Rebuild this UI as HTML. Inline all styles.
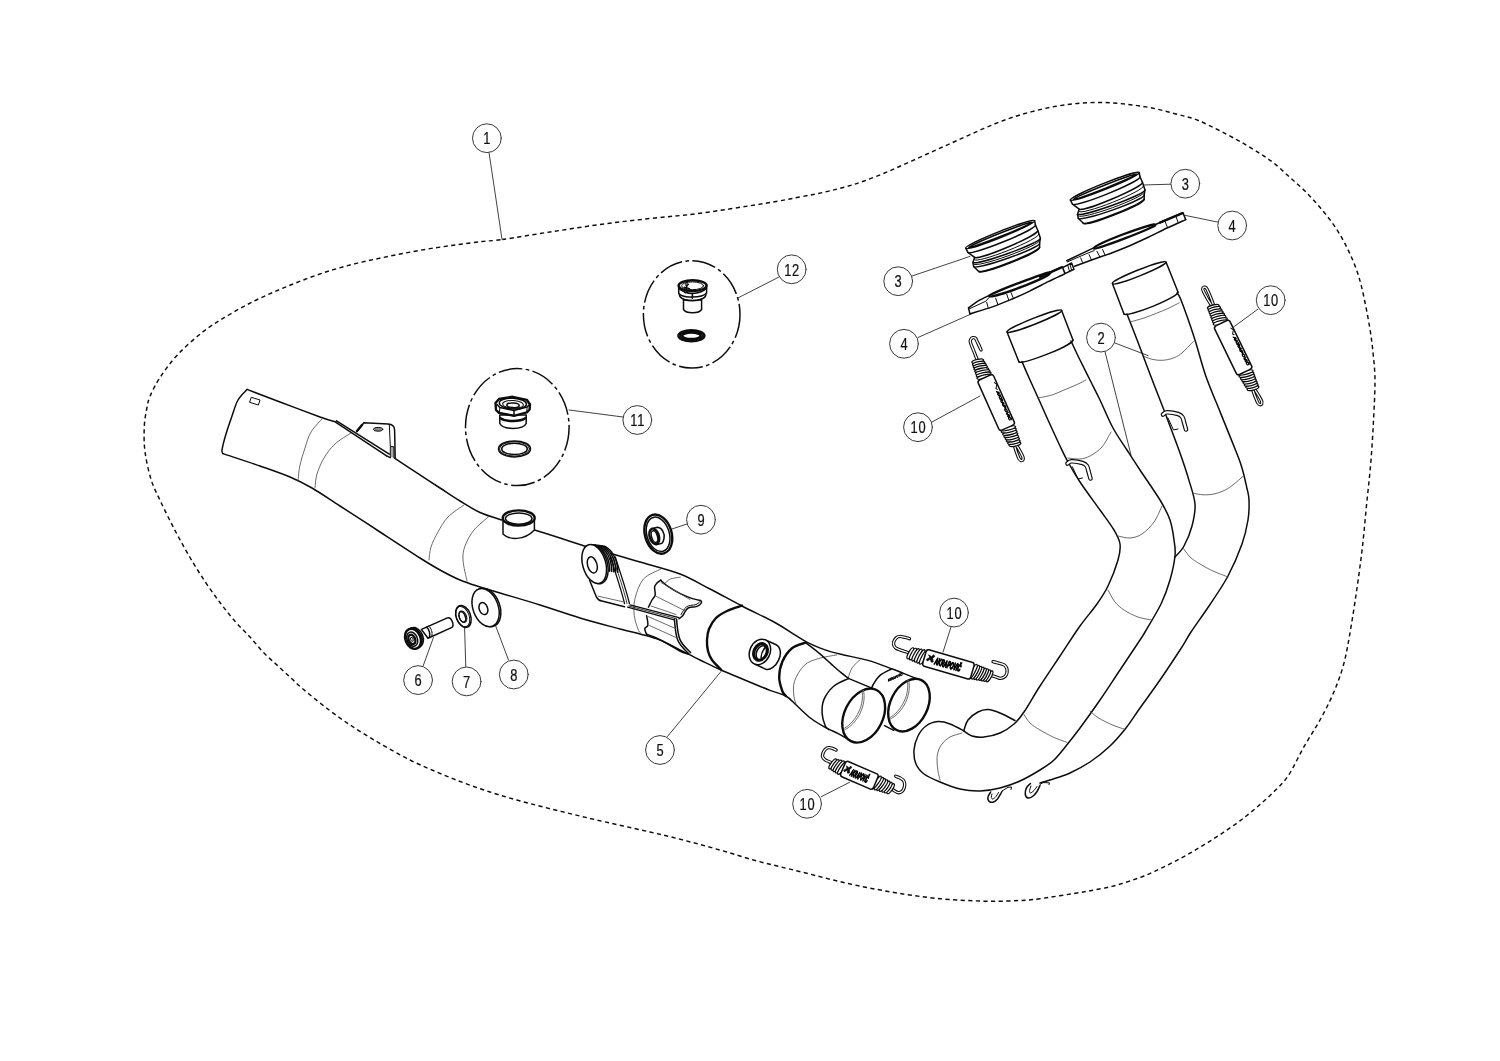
<!DOCTYPE html>
<html lang="en"><head><meta charset="utf-8"><title>Exhaust system exploded diagram</title>
<style>
html,body{margin:0;padding:0;background:#fff}
svg{display:block;filter:grayscale(1)}
path,ellipse,circle,.r{fill:none;stroke:#0c0c0c;stroke-width:1.5;stroke-linecap:round;stroke-linejoin:round}
.b{stroke-width:2.4}
.t{stroke-width:1}
.s{stroke:#505050;stroke-width:.85}
.l{stroke:#383838;stroke-width:.95}
.c{stroke:#383838;stroke-width:1;fill:#fff}
.d{stroke-width:1.45;stroke-dasharray:4.2 3.4;stroke-linecap:butt}
.dd{stroke-width:1.5;stroke-dasharray:24 3.4 3.6 3.4;stroke-linecap:butt}
.w{fill:#fff}
.k{fill:#0c0c0c}
.n{font-family:"Liberation Sans",Arial,sans-serif;font-size:17.4px;text-anchor:middle;fill:#111;stroke:#111;stroke-width:.25;letter-spacing:1.1px}
.lg{font-family:"Liberation Sans",Arial,sans-serif;font-weight:bold;font-style:italic;fill:#000;stroke:none}
</style></head>
<body>
<svg width="1500" height="1061" viewBox="0 0 1500 1061">
<rect width="1500" height="1061" fill="#fff" stroke="none"/>
<path class="d" d="M502.3 239.5C513.6 237.9 533.7 234.5 550 232C566.3 229.5 583.3 226.8 600 224.5C616.7 222.2 633.3 220.4 650 218.5C666.7 216.6 680.5 215.9 700 213.3C719.5 210.7 750.3 205.7 767 203C783.7 200.3 790.3 198.8 800 197C809.7 195.2 817.5 193.7 825 192C832.5 190.3 838.5 188.8 845 187C851.5 185.2 856.8 183.6 864 181C871.2 178.4 880 175 888 171.6C896 168.2 904 164.4 912 160.8C920 157.2 928 153.6 936 150C944 146.4 952 142.8 960 139.2C968 135.6 976 131.8 984 128.4C992 125 1000 121.6 1008 118.8C1016 116 1024 113.7 1032 111.6C1040 109.5 1048 107.7 1056 106.3C1064 104.9 1072 103.8 1080 103.2C1088 102.6 1096 102.3 1104 102.5C1112 102.7 1120 103.5 1128 104.4C1136 105.3 1144 106.4 1152 108C1160 109.6 1168 111.8 1176 114C1184 116.2 1189.9 116.9 1200 121.2C1210.1 125.5 1226.6 134.2 1236.6 139.6C1246.6 145 1253.6 149.5 1260 153.6C1266.4 157.7 1270.1 160.1 1275.1 164.1C1280.1 168.1 1285.2 173.2 1290.2 177.7C1295.2 182.2 1300.2 186.3 1305.2 191.3C1310.2 196.3 1315.3 201.8 1320.3 207.8C1325.3 213.8 1330.9 220.6 1335.4 227.4C1339.9 234.2 1343.9 241.4 1347.4 248.5C1350.9 255.6 1354 262.6 1356.5 269.7C1359 276.8 1360.3 281.4 1362.5 290.8C1364.7 300.2 1367.7 315.6 1369.5 326.2C1371.3 336.8 1372.3 345.2 1373.2 354.5C1374.1 363.8 1375 370.7 1375 382C1375 393.3 1374.1 408.7 1373.4 422.5C1372.7 436.3 1371.8 450.8 1370.6 464.9C1369.4 479 1367.7 493.2 1366.3 507.4C1364.9 521.5 1363.8 535.6 1362.1 549.8C1360.4 563.9 1358.5 577.8 1356.4 592.3C1354.3 606.8 1351.5 624.6 1349.3 637C1347.1 649.4 1345.7 657.3 1343 666.7C1340.3 676.1 1337.1 684.4 1333.3 693.3C1329.5 702.2 1324.9 711.1 1320 720C1315.1 728.9 1309.3 737.4 1304 746.7C1298.7 756 1293.3 768.2 1288 776C1282.7 783.8 1277.3 788.3 1272 793.6C1266.7 798.9 1261.3 803.5 1256 808C1250.7 812.5 1245.3 816.8 1240 820.8C1234.7 824.8 1229.3 828.4 1224 832C1218.7 835.6 1213.3 839.1 1208 842.4C1202.7 845.7 1197.3 848.9 1192 852C1186.7 855.1 1181.3 858 1176 860.8C1170.7 863.6 1165.3 866.3 1160 868.8C1154.7 871.3 1149.3 873.9 1144 876C1138.7 878.1 1133.3 879.9 1128 881.6C1122.7 883.3 1117.3 885.1 1112 886.4C1106.7 887.7 1101.3 888.6 1096 889.6C1090.7 890.6 1089.3 891 1080 892.5C1070.7 894 1050 897.4 1040 898.7C1030 900 1027.8 900.1 1020 900.5C1012.2 900.9 1002.2 901.3 993.3 901.3C984.4 901.3 975.6 900.9 966.7 900.5C957.8 900.1 948.9 899.5 940 898.7C931.1 897.9 922.2 896.8 913.3 895.5C904.4 894.2 895.6 892.8 886.7 891.2C877.8 889.6 868.9 888 860 886.1C851.1 884.2 842.2 882.1 833.3 880C824.4 877.9 815.6 875.5 806.7 873.3C797.8 871.1 788.9 868.9 780 866.7C771.1 864.5 762.2 862.5 753.3 860C744.4 857.5 735.6 854.6 726.7 852C717.8 849.4 708.9 846.9 700 844.5C691.1 842.1 681.6 839.6 673.3 837.5C665 835.4 658.3 833.9 650 832C641.7 830.1 632.2 828 623.3 826C614.4 824 605.6 822.1 596.7 820C587.8 817.9 578.9 815.8 570 813.6C561.1 811.4 552.2 809.3 543.3 807C534.4 804.7 525.6 802.5 516.7 800C507.8 797.5 498.9 794.9 490 792C481.1 789.1 472.2 786 463.3 782.7C454.4 779.4 445.6 775.8 436.7 772C427.8 768.2 418.9 764.5 410 760C401.1 755.5 392.2 750.4 383.3 745.3C374.4 740.2 365.6 735.1 356.7 729.3C347.8 723.5 338.9 717.4 330 710.7C321.1 704 309.8 694.8 303.3 689.3C296.8 683.8 295.2 681.9 291 678C286.8 674.1 282.5 670.2 278 666C273.5 661.8 268.7 657.8 264 653C259.3 648.2 254.7 642.2 250 637C245.3 631.8 240.5 627.6 235.6 622C230.7 616.4 225.5 609.9 220.5 603.2C215.5 596.6 210.4 589.6 205.4 582.1C200.4 574.6 195.3 566.5 190.3 558C185.3 549.5 180.2 540.3 175.2 530.8C170.2 521.2 164.2 509.2 160.2 500.7C156.2 492.1 153.6 487.6 151.1 479.5C148.6 471.4 146.2 460.9 145.1 452.4C143.9 443.9 144 435.4 144.2 428.3C144.4 421.2 145.5 415.4 146.5 410C147.5 404.6 147.8 401.6 150.1 396.1C152.4 390.6 155.7 384.1 160.3 377.1C165 370.1 170.8 361.9 178 354.3C185.2 346.7 194.9 338.1 203.3 331.5C211.8 324.9 220.2 320.1 228.7 315C237.1 309.9 245.6 305.3 254 301.1C262.4 296.9 270.9 293.3 279.3 289.7C287.8 286.1 296.2 282.7 304.7 279.5C313.1 276.3 321.6 273.3 330 270.7C338.4 268.1 346.9 265.7 355.4 263.6C363.8 261.5 372.3 259.8 380.7 258C389.1 256.2 397.6 254.5 406 252.9C414.4 251.3 422.9 249.8 431.4 248.4C439.8 247.1 448.3 246 456.7 244.8C465.1 243.7 474.4 242.4 482 241.5C489.6 240.6 491 241.1 502.3 239.5Z"/>
<path class="l" d="M489 152.4L502 239.3"/>
<path class="l" d="M1115 343L1148 355.6"/>
<path class="l" d="M1105 351.6L1131 455"/>
<path class="l" d="M1170.9 184.2L1125 185.5"/>
<path class="l" d="M912.4 275.9L970 256.4"/>
<path class="l" d="M1218.2 222.2L1185.3 215.4"/>
<path class="l" d="M918 337.5L972.5 313.4"/>
<path class="l" d="M667.5 736.5L721 671.5"/>
<path class="l" d="M423.2 665.8L433.4 637.6"/>
<path class="l" d="M465.8 667L464.6 628"/>
<path class="l" d="M508.4 659.8L495.8 626.2"/>
<path class="l" d="M687 524L671 529.3"/>
<path class="l" d="M951 627L943 652.2"/>
<path class="l" d="M1257.9 309.2L1230 329.6"/>
<path class="l" d="M932 422L980 396"/>
<path class="l" d="M821.1 796.8L849.6 782.3"/>
<path class="l" d="M623 417L569 410"/>
<path class="l" d="M779 277L737.3 298.3"/>
<circle class="c" cx="486.9" cy="138.2" r="14.4"/>
<text class="n" transform="translate(487.3 144.4) scale(.74 1)">1</text>
<circle class="c" cx="1101" cy="337.6" r="14.4"/>
<text class="n" transform="translate(1101.4 343.8) scale(.74 1)">2</text>
<circle class="c" cx="1185.3" cy="183.7" r="14.4"/>
<text class="n" transform="translate(1185.7 189.9) scale(.74 1)">3</text>
<circle class="c" cx="898.2" cy="281.2" r="14.4"/>
<text class="n" transform="translate(898.6 287.4) scale(.74 1)">3</text>
<circle class="c" cx="1232.2" cy="225.5" r="14.4"/>
<text class="n" transform="translate(1232.6 231.7) scale(.74 1)">4</text>
<circle class="c" cx="904" cy="343.8" r="14.4"/>
<text class="n" transform="translate(904.4 350) scale(.74 1)">4</text>
<circle class="c" cx="660" cy="750" r="14.4"/>
<text class="n" transform="translate(660.4 756.2) scale(.74 1)">5</text>
<circle class="c" cx="418.1" cy="680.1" r="14.4"/>
<text class="n" transform="translate(418.5 686.3) scale(.74 1)">6</text>
<circle class="c" cx="466.6" cy="681.4" r="14.4"/>
<text class="n" transform="translate(467 687.6) scale(.74 1)">7</text>
<circle class="c" cx="513.8" cy="674.5" r="14.4"/>
<text class="n" transform="translate(514.2 680.7) scale(.74 1)">8</text>
<circle class="c" cx="701" cy="519.7" r="14.4"/>
<text class="n" transform="translate(701.4 525.9) scale(.74 1)">9</text>
<circle class="c" cx="954" cy="612.6" r="14.4"/>
<text class="n" transform="translate(954.4 618.8) scale(.74 1)">10</text>
<circle class="c" cx="1270.7" cy="300.2" r="14.4"/>
<text class="n" transform="translate(1271.1 306.4) scale(.74 1)">10</text>
<circle class="c" cx="918" cy="427.2" r="14.4"/>
<text class="n" transform="translate(918.4 433.4) scale(.74 1)">10</text>
<circle class="c" cx="807.1" cy="803.8" r="14.4"/>
<text class="n" transform="translate(807.5 810) scale(.74 1)">10</text>
<circle class="c" cx="637.3" cy="420" r="14.4"/>
<text class="n" transform="translate(637.7 426.2) scale(.74 1)">11</text>
<circle class="c" cx="791.7" cy="269.3" r="14.4"/>
<text class="n" transform="translate(792.1 275.5) scale(.74 1)">12</text>
<ellipse class="dd" cx="517.3" cy="427.1" rx="51.8" ry="58.5"/>
<ellipse class="dd" cx="691.7" cy="314.4" rx="48.3" ry="53.7"/>
<path class="o" d="M247 389.4C245.5 391.2 240.5 395.6 238 400C235.5 404.4 234 410.3 232 416C230 421.7 227.7 428.3 226 434C224.3 439.7 222.5 446.7 222 450C221.5 453.3 222.8 453 223 453.6"/>
<path class="o" d="M247 389.4C252.5 391.5 267.8 397.4 280 402C292.2 406.6 310.6 413.6 320 417C329.4 420.4 333.5 421.3 336.2 422.2"/>
<path class="o" d="M394.9 458.4C398.2 460.6 407.5 466.7 415 471.6C422.5 476.5 432.5 483.1 440 488C447.5 492.9 453.3 496.9 460 501C466.7 505.1 473 509.3 480 512.5C487 515.7 498.3 518.8 502 520"/>
<path class="o" d="M534.5 530C538.8 531.3 551.4 535.2 560 538C568.6 540.8 581.7 545.1 586 546.5"/>
<path class="o" d="M611 553.5C615.8 554.9 628.5 558.6 640 562C651.5 565.4 668.3 569.5 680 574C691.7 578.5 699.7 583.7 710 589C720.3 594.3 731.2 600.4 742 606C752.8 611.6 766.1 617.7 774.9 622.5C783.6 627.3 789.2 631.4 794.5 634.7C799.8 638 802.7 640 806.8 642.1C810.9 644.2 814.9 646 819 647.6C823.1 649.2 827.2 650.7 831.3 651.9C835.4 653.1 837.4 653.5 843.5 654.9C849.6 656.3 859.8 658 868 660.4C876.2 662.8 886.4 666.8 892.5 669C898.6 671.2 900.9 672.3 904.8 673.9C908.7 675.5 914.1 677.6 916 678.4"/>
<path class="o" d="M223 453.6C229.2 455.7 248.8 462.1 260 466C271.2 469.9 281.3 473.3 290 477C298.7 480.7 303.7 483.2 312 488C320.3 492.8 328.7 498.7 340 506C351.3 513.3 366.7 523.3 380 532C393.3 540.7 410 551.7 420 558C430 564.3 433.3 566.3 440 570C446.7 573.7 453.3 577.2 460 580C466.7 582.8 473.3 584.8 480 587C486.7 589.2 490 590 500 593C510 596 526.7 600.8 540 605C553.3 609.2 566.7 614 580 618C593.3 622 610 626.3 620 629C630 631.7 633.3 632.2 640 634C646.7 635.8 653.3 637.3 660 640C666.7 642.7 673.3 646.7 680 650C686.7 653.3 693.3 656.8 700 660C706.7 663.2 713.3 666.5 720 669.5C726.7 672.5 731.7 674.5 740 678C748.3 681.5 762.4 687.4 770 690.4C777.6 693.4 781.4 693.4 785.9 696C790.4 698.6 792.9 702.1 797 705.8C801.1 709.5 805.9 714.5 810.4 718C814.9 721.5 819.2 724 823.9 726.6C828.6 729.2 834.5 731.8 838.6 733.9C842.7 736 845.5 738 848.4 739.4C851.3 740.8 854.6 742 855.8 742.5"/>
<path class="s" d="M323 418C321 420.3 314 427 311 432C308 437 306.8 442.5 305 448C303.2 453.5 301.2 459.5 300 465C298.8 470.5 298.3 478.3 298 481"/>
<path class="s" d="M351 433C348.3 434.8 339.5 439.8 335 444C330.5 448.2 327 453 324 458C321 463 318.5 469 317 474C315.5 479 315.3 485.7 315 488"/>
<path class="s" d="M464 505C461.3 507 452.3 512.5 448 517C443.7 521.5 440.8 527 438 532C435.2 537 432.5 542.3 431 547C429.5 551.7 429.3 557.8 429 560"/>
<path class="s" d="M489 516.4C486.5 518.7 478 525.1 474 530C470 534.9 466.8 541 465 546C463.2 551 462.7 554.2 463 560C463.3 565.8 466.3 577.5 467 581"/>
<path class="s" d="M660.7 569.2C657.8 570.8 647.8 574.1 643.5 579C639.2 583.9 636.5 592.5 635 598.6C633.5 604.7 633.7 610.5 634.3 615.8C634.9 621.1 637.5 627.6 638.6 630.5C639.7 633.4 640.6 632.6 641 633"/>
<path class="s" d="M680.3 577.2C678.7 577.5 673 578 670.5 579C668 580 665.9 582.6 665 583.3"/>
<path class="b" d="M742 605.6C739.5 606.5 731.3 608.9 727 611C722.7 613.1 719 615 716 618C713 621 710.5 625.3 709 629C707.5 632.7 707.2 636.3 707 640C706.8 643.7 707.2 647.7 708 651C708.8 654.3 709.8 656.9 712 660C714.2 663.1 719.5 667.9 721 669.5"/>
<path class="b" d="M805.5 642.7C803.2 643.6 795.9 645 792 648.2C788.1 651.4 784.4 656.8 782.3 661.7C780.2 666.6 779.2 672.7 779.2 677.6C779.2 682.5 781.2 687.9 782.3 691C783.4 694.1 785.3 695.2 785.9 696"/>
<path class="t" d="M251.6 397.4L260 400L258.4 405L250 402.4Z"/>
<path class="o" d="M336.5 420.8L389.3 454.1"/>
<path class="o" d="M335.9 422.3L387 456.1"/>
<path class="o" d="M356.7 431.4L363.9 422.7L388 424C392.5 424.3 394.6 426 394.6 430L395.2 458.4"/>
<path class="b" d="M357 431L362 425"/>
<path class="t" d="M389.3 424.8L390.3 445.9"/>
<path class="t" d="M390.3 457L390.3 446.4L393.9 446.8L394 458" style="fill:#aaa"/>
<path class="o" d="M387 456.1L390.3 457.6"/>
<ellipse class="t" cx="378.1" cy="429.3" rx="4.7" ry="1.9" style="fill:#8a8a8a"/>
<path class="o w" d="M503 519L503 534C509 540 524 541 534.4 530L534.4 519"/>
<ellipse class="b w" cx="518.7" cy="518" rx="16" ry="7.6"/>
<ellipse class="o" cx="518.7" cy="518.6" rx="13.3" ry="5.6"/>
<path class="o w" d="M765.5 640L775.7 644.5C781 647 781.5 654 778.6 660.1C776 666 770 670.5 766 669.4L754.8 664"/>
<ellipse class="o w" cx="759.9" cy="651.9" rx="10.1" ry="13.2" transform="rotate(25 759.9 651.9)"/>
<ellipse class="b" cx="760.5" cy="651.9" rx="6.8" ry="9" transform="rotate(25 760.5 651.9)"/>
<ellipse class="o" cx="761.3" cy="652.6" rx="4.6" ry="7.2" transform="rotate(25 761.3 652.6)"/>
<ellipse class="o" cx="760.8" cy="652.2" rx="5.8" ry="8.2" transform="rotate(25 760.8 652.2)"/>
<path class="o" d="M765.5 647C762 651 760.5 656 761.5 660"/>
<path class="s" d="M836.8 654.9C833.7 655.5 823.8 656.9 818.4 658.6C813 660.3 808.3 661.5 804.3 665.3C800.3 669.1 796.2 676.2 794.5 681.3C792.8 686.4 793.6 692.1 793.9 696C794.2 699.9 795.9 703.1 796.3 704.5"/>
<path class="s" d="M860 659.8C858.7 661.1 854 664.8 852.1 667.8C850.2 670.8 849 676 848.4 677.6"/>
<path class="o" d="M805.5 642.7C807.8 644.4 814.7 649.5 819 653.1C823.3 656.7 827.6 660.8 831.3 664.1C835 667.4 838.2 670.3 841.1 672.7C844 675.1 847.2 677.5 848.4 678.4"/>
<path class="o" d="M848.4 678.6C846 679.9 837.8 682.7 833.7 686.2C829.6 689.7 825.8 695.1 823.9 699.6C822 704.1 821.9 708.8 822.1 713.1C822.3 717.4 824 722.6 825.1 725.4C826.2 728.1 828.2 728.9 828.8 729.6"/>
<path class="o" d="M848.4 678.4L872.5 688.4"/>
<path class="o" d="M891.3 669C889.5 670 883.3 672.6 880.3 675.1C877.3 677.6 875 681.5 873.5 684C872 686.5 871.4 689 871 690"/>
<path class="o" d="M884.5 725.7L893.7 730.3"/>
<ellipse class="b w" cx="909" cy="705.1" rx="18.6" ry="27.9" transform="rotate(26.6 909 705.1)"/>
<ellipse class="b w" cx="863.7" cy="715.6" rx="19.2" ry="28.6" transform="rotate(26.6 863.7 715.6)"/>
<path class="s" d="M863.4 690.2C863.4 690.7 863.7 691.9 863.9 692.8C864 693.7 864.1 694.6 864.1 695.5C864.1 696.4 864.1 697.3 864.1 698.3C864 699.2 863.9 700.2 863.8 701.2C863.7 702.1 863.5 703.1 863.3 704.1C863.1 705.1 862.8 706 862.5 707C862.2 708 861.9 709 861.5 709.9C861.2 710.9 860.7 711.9 860.3 712.8C859.9 713.7 859.4 714.7 858.9 715.6C858.4 716.5 857.8 717.4 857.2 718.2C856.7 719.1 856.1 719.9 855.4 720.7C854.8 721.5 854.2 722.3 853.5 723C852.8 723.7 852.1 724.4 851.4 725.1C850.7 725.8 850 726.4 849.2 726.9C848.5 727.5 847.7 728.1 847 728.5C846.2 729 845.1 729.6 844.7 729.9"/>
<path class="s" d="M861.9 690.2C862 690.7 862.3 691.9 862.3 692.7C862.4 693.6 862.5 694.4 862.5 695.3C862.5 696.2 862.5 697.1 862.4 698C862.4 699 862.3 699.9 862.1 700.8C862 701.7 861.8 702.7 861.6 703.6C861.4 704.6 861.1 705.5 860.9 706.5C860.6 707.4 860.2 708.3 859.9 709.3C859.5 710.2 859.1 711.1 858.7 712C858.3 712.9 857.8 713.8 857.3 714.7C856.8 715.5 856.3 716.4 855.8 717.2C855.2 718 854.7 718.8 854.1 719.6C853.5 720.4 852.9 721.1 852.2 721.9C851.6 722.6 850.9 723.3 850.2 723.9C849.6 724.5 848.9 725.2 848.2 725.7C847.5 726.3 846.7 726.8 846 727.3C845.3 727.8 844.2 728.4 843.8 728.7"/>
<path class="s" d="M908.6 680.4C908.7 680.8 908.9 682 909.1 682.8C909.2 683.7 909.2 684.6 909.3 685.5C909.3 686.3 909.3 687.3 909.3 688.2C909.2 689.1 909.1 690.1 909 691C908.9 691.9 908.7 692.9 908.5 693.8C908.3 694.8 908 695.8 907.7 696.7C907.4 697.7 907.1 698.6 906.8 699.6C906.4 700.5 906 701.4 905.6 702.4C905.1 703.3 904.7 704.2 904.2 705.1C903.7 705.9 903.1 706.8 902.6 707.6C902 708.5 901.4 709.3 900.8 710.1C900.2 710.8 899.6 711.6 898.9 712.3C898.3 713 897.6 713.7 896.9 714.4C896.2 715 895.5 715.6 894.8 716.2C894.1 716.7 893.3 717.3 892.6 717.7C891.8 718.2 890.7 718.8 890.3 719"/>
<path class="s" d="M907.3 680.3C907.3 680.7 907.6 681.9 907.6 682.8C907.7 683.6 907.8 684.4 907.8 685.3C907.8 686.2 907.8 687.1 907.7 687.9C907.7 688.8 907.6 689.7 907.4 690.6C907.3 691.6 907.1 692.5 906.9 693.4C906.7 694.3 906.4 695.2 906.2 696.1C905.9 697.1 905.6 698 905.2 698.9C904.9 699.8 904.5 700.7 904.1 701.6C903.6 702.4 903.2 703.3 902.7 704.1C902.2 705 901.7 705.8 901.2 706.6C900.7 707.4 900.1 708.2 899.5 709C899 709.7 898.4 710.5 897.7 711.2C897.1 711.9 896.5 712.5 895.8 713.2C895.2 713.8 894.5 714.4 893.8 715C893.1 715.5 892.4 716 891.7 716.5C891 717 889.9 717.6 889.6 717.8"/>
<text class="lg" transform="translate(888.2 681.6) rotate(-24.5) scale(1 .5)" font-size="6.5" textLength="16" lengthAdjust="spacingAndGlyphs" style="stroke:#000;stroke-width:1.1">AKRAPOVIČ</text>
<path class="o" d="M589.5 580L596.3 596.8C598 600 600 600.8 601.9 601.1L624.5 606.8"/>
<path class="s" d="M598.2 596.2L622.7 601.7"/>
<path class="t" d="M610.4 557C614.4 570 621.5 590 624.5 603.5" style="stroke-width:1.3"/>
<path class="t" d="M612.9 557C616.9 570 624 590 627 603.5" style="stroke-width:.8"/>
<path class="t" d="M615.3 557C619.3 570 626.4 590 629.4 603.5" style="stroke-width:1.3"/>
<path class="o" d="M590.9 545.5C591.2 545.4 592.1 545.1 592.7 545C593.2 544.9 593.9 544.9 594.5 544.9C595.1 545 595.7 545.1 596.4 545.4C597 545.6 597.7 545.9 598.3 546.2C598.9 546.6 599.6 547 600.2 547.6C600.8 548.1 601.4 548.6 602 549.3C602.6 549.9 603.2 550.6 603.8 551.4C604.3 552.1 604.8 552.9 605.3 553.8C605.8 554.6 606.3 555.5 606.7 556.5C607.1 557.4 607.5 558.3 607.9 559.3C608.2 560.3 608.5 561.3 608.7 562.3C609 563.3 609.2 564.3 609.4 565.3C609.5 566.3 609.6 567.4 609.7 568.3C609.8 569.3 609.7 570.8 609.7 571.3"/>
<path class="o" d="M592.9 545.7C593.2 545.7 594.1 545.3 594.7 545.2C595.2 545.1 595.9 545.1 596.5 545.2C597.1 545.2 597.7 545.4 598.4 545.6C599 545.8 599.7 546.1 600.3 546.5C600.9 546.8 601.6 547.3 602.2 547.8C602.8 548.3 603.4 548.9 604 549.5C604.6 550.2 605.2 550.9 605.8 551.6C606.3 552.4 606.8 553.2 607.3 554C607.8 554.9 608.3 555.8 608.7 556.7C609.1 557.6 609.5 558.6 609.9 559.6C610.2 560.5 610.5 561.5 610.7 562.5C611 563.5 611.2 564.6 611.4 565.6C611.5 566.6 611.6 567.6 611.7 568.6C611.8 569.6 611.7 571 611.7 571.5"/>
<path class="o" d="M594.9 546C595.2 545.9 596.1 545.6 596.7 545.5C597.2 545.4 597.9 545.4 598.5 545.4C599.1 545.5 599.7 545.6 600.4 545.8C601 546.1 601.7 546.3 602.3 546.7C602.9 547.1 603.6 547.5 604.2 548C604.8 548.5 605.4 549.1 606 549.8C606.6 550.4 607.2 551.1 607.8 551.9C608.3 552.6 608.8 553.4 609.3 554.3C609.8 555.1 610.3 556 610.7 556.9C611.1 557.9 611.5 558.8 611.9 559.8C612.2 560.8 612.5 561.8 612.7 562.8C613 563.8 613.2 564.8 613.4 565.8C613.5 566.8 613.6 567.8 613.7 568.8C613.8 569.8 613.7 571.2 613.7 571.7"/>
<path class="o" d="M596.9 546.2C597.2 546.1 598.1 545.8 598.7 545.7C599.2 545.6 599.9 545.6 600.5 545.7C601.1 545.7 601.7 545.9 602.4 546.1C603 546.3 603.7 546.6 604.3 547C604.9 547.3 605.6 547.8 606.2 548.3C606.8 548.8 607.4 549.4 608 550C608.6 550.6 609.2 551.4 609.8 552.1C610.3 552.9 610.8 553.7 611.3 554.5C611.8 555.4 612.3 556.3 612.7 557.2C613.1 558.1 613.5 559.1 613.9 560C614.2 561 614.5 562 614.7 563C615 564 615.2 565 615.4 566C615.5 567.1 615.6 568.1 615.7 569.1C615.8 570 615.7 571.5 615.7 572"/>
<path class="o" d="M598.9 546.5C599.2 546.4 600.1 546 600.7 545.9C601.2 545.9 601.9 545.8 602.5 545.9C603.1 546 603.7 546.1 604.4 546.3C605 546.5 605.7 546.8 606.3 547.2C606.9 547.6 607.6 548 608.2 548.5C608.8 549 609.4 549.6 610 550.2C610.6 550.9 611.2 551.6 611.8 552.3C612.3 553.1 612.8 553.9 613.3 554.8C613.8 555.6 614.3 556.5 614.7 557.4C615.1 558.3 615.5 559.3 615.9 560.3C616.2 561.2 616.5 562.3 616.7 563.3C617 564.3 617.2 565.3 617.4 566.3C617.5 567.3 617.6 568.3 617.7 569.3C617.8 570.3 617.7 571.7 617.7 572.2"/>
<ellipse class="o w" cx="595.8" cy="564.2" rx="11.5" ry="20" transform="rotate(-16 595.8 564.2)"/>
<ellipse class="o w" cx="594.2" cy="564" rx="11.5" ry="20" transform="rotate(-16 594.2 564)"/>
<ellipse class="o" cx="592.3" cy="564.9" rx="4.7" ry="8.3" transform="rotate(-16 592.3 564.9)"/>
<path class="t" d="M630 604.8L679 617.6" style="stroke-width:1.3"/>
<path class="t" d="M628.8 606L676.7 618.7" style="stroke-width:.8"/>
<path class="t" d="M627.6 607.2L674.4 619.8" style="stroke-width:1.3"/>
<path class="o" d="M674.4 619C675 628 676 636 677.8 640.3C680 646 685 650 688.9 653.8"/>
<path class="o" d="M676.6 619.6C677.2 628 678.2 635.4 680 639.6C682.2 645 687 648.6 690.6 652.6"/>
<path class="o" d="M648.4 607.2C649 606 650.9 602 652 600C653.1 598 654.8 597.2 655.2 595C655.6 592.8 654.3 589 654.6 587C654.9 585 656 584.1 657 583C658 581.9 660.1 580.7 660.7 580.2"/>
<path class="o" d="M660.7 580.2C661.9 581.2 664.7 584.1 668 586.4C671.3 588.6 676.2 591.7 680.3 593.7C684.4 595.7 689.1 597.5 692.5 598.6C695.9 599.7 699.2 600.2 700.5 600.5"/>
<path class="o" d="M700.5 600.5C700.7 600.8 701.8 601.5 701.6 602.3C701.4 603 700.4 604.3 699.5 605C698.6 605.7 697.6 606.2 696.2 606.6C694.8 607 692.4 606.9 691 607.2C689.6 607.5 688.6 607.6 687.6 608.4C686.6 609.2 685.8 610.6 685 611.8C684.2 613 683.7 614.6 682.7 615.8C681.7 617 679.7 618.3 679.1 618.8"/>
<path class="t" d="M699.5 602C698.9 602.4 697.5 604 696 604.6C694.5 605.2 692.1 605 690.5 605.4C688.9 605.8 687.7 605.9 686.5 606.8C685.3 607.6 684.4 609.2 683.5 610.5C682.6 611.8 681.4 613.9 681 614.6"/>
<path class="s" d="M655.8 596.2L685.2 610.9"/>
<path class="s" d="M651 606L676 614.5"/>
<path class="s" d="M661 582.5L690 599.5"/>
<path class="o" d="M646.6 615.8C646.8 616.7 647.4 619.4 647.6 621C647.8 622.6 648.1 624.6 647.8 625.6C647.5 626.6 646.5 626.7 646 627.2C645.5 627.7 644.9 627.9 644.8 628.6C644.7 629.3 645.1 630.6 645.4 631.5C645.7 632.4 646.4 633.8 646.6 634.2"/>
<path class="o" d="M646.6 634.2C648.1 634.8 652.2 636.2 655.8 637.8C659.4 639.4 663.9 641.8 668 644C672.1 646.2 677 649.7 680.3 651.3C683.6 652.9 686.4 653.4 687.6 653.8"/>
<path class="s" d="M649.7 625.6L676.6 637.8"/>
<path class="s" d="M648 616.5L675.5 628.5"/>
<ellipse class="o" cx="1139.2" cy="272.8" rx="28.9" ry="3" transform="rotate(-21.9 1139.2 272.8)"/>
<path class="o" d="M1112.4 283.6L1124 314"/>
<path class="o" d="M1166 262L1178 292"/>
<path class="o" d="M1124 314A28.9 3.8 -21.9 0 0 1178 292"/>
<path class="o" d="M1127 314C1128.8 318.6 1134 331.9 1137.7 341.5C1141.4 351.1 1144.9 360.9 1149 371.6C1153.1 382.3 1159 397.4 1162.2 405.6C1165.4 413.8 1165.1 413.1 1167.9 420.6C1170.7 428.1 1175.8 441.1 1179.2 450.8C1182.7 460.6 1186 470.2 1188.6 479.1C1191.2 488 1194.4 496.2 1195 504C1195.6 511.8 1193.8 519 1192 526C1190.2 533 1186.8 540.8 1184 546C1181.2 551.2 1176.5 555.2 1175 557"/>
<path class="o" d="M1177 293C1177.7 294.2 1178.1 292.6 1181 300C1183.9 307.4 1190.2 325.1 1194.3 337.7C1198.4 350.3 1201.2 362.8 1205.6 375.4C1210 388 1216.2 402.1 1220.6 413.1C1225 424.1 1228.5 432.6 1232 441.4C1235.5 450.2 1238.9 458 1241.4 465.9C1243.9 473.8 1245.7 482.8 1247 488.5C1248.3 494.2 1248.8 494.8 1249 500C1249.2 505.2 1249.2 512.7 1248 520C1246.8 527.3 1245.3 534.7 1242 544C1238.7 553.3 1233.5 565.7 1228 576C1222.5 586.3 1215.2 596.7 1209 606C1202.8 615.3 1195.8 624.7 1191 632C1186.2 639.3 1185.2 642 1180 650C1174.8 658 1166.7 670.3 1160 680C1153.3 689.7 1145.7 700 1140 708C1134.3 716 1131 721.7 1126 728C1121 734.3 1116 740.3 1110 746C1104 751.7 1096.7 757.5 1090 762C1083.3 766.5 1076.7 770 1070 773C1063.3 776 1055 778.3 1050 780C1045 781.7 1041.7 782.5 1040 783"/>
<path class="o" d="M964 730C964.7 728.3 965.7 723 968 720C970.3 717 974.7 713.7 978 712C981.3 710.3 984.3 709.4 988 709.6C991.7 709.8 995.5 711.2 1000 713C1004.5 714.8 1012.5 719.2 1015 720.5"/>
<ellipse class="o" cx="1034.3" cy="321.2" rx="29.4" ry="3" transform="rotate(-21.6 1034.3 321.2)"/>
<path class="o" d="M1007 332L1019 362"/>
<path class="o" d="M1061.6 310.4L1073 340"/>
<path class="o" d="M1019 362A29.4 3.8 -21.6 0 0 1073 340"/>
<path class="o" d="M1022 361.6C1023.3 364.7 1027 373.3 1030 380C1033 386.7 1037 395.3 1040 402C1043 408.7 1044.7 412.7 1048 420C1051.3 427.3 1056.7 439 1060 446C1063.3 453 1064.7 456 1068 462C1071.3 468 1074.7 474 1080 482C1085.3 490 1094.3 502 1100 510C1105.7 518 1110.7 524.3 1114 530C1117.3 535.7 1119.3 539 1120 544C1120.7 549 1120 553 1118 560C1116 567 1111.5 578.7 1108 586C1104.5 593.3 1101.7 597.3 1097 604C1092.3 610.7 1086.2 617.3 1080 626C1073.8 634.7 1066.7 646 1060 656C1053.3 666 1046 676.7 1040 686C1034 695.3 1028.3 705.7 1024 712C1019.7 718.3 1018 720.5 1014 724C1010 727.5 1005 730.8 1000 733C995 735.2 988.7 736.5 984 737C979.3 737.5 975.3 737 972 736C968.7 735 965.3 731.8 964 731"/>
<path class="o" d="M1071 341C1072.5 344.2 1076.8 353.5 1080 360C1083.2 366.5 1086.7 373.3 1090 380C1093.3 386.7 1096.2 392 1100 400C1103.8 408 1108.5 419.7 1113 428C1117.5 436.3 1122.5 443 1127 450C1131.5 457 1134.5 461.7 1140 470C1145.5 478.3 1155 491.7 1160 500C1165 508.3 1167.7 513.3 1170 520C1172.3 526.7 1173.2 534 1174 540C1174.8 546 1175.7 549.3 1175 556C1174.3 562.7 1172.3 572 1170 580C1167.7 588 1165.2 595.3 1161 604C1156.8 612.7 1148.5 626 1145 632C1141.5 638 1144.2 633.7 1140 640C1135.8 646.3 1126.7 660 1120 670C1113.3 680 1106.7 690.3 1100 700C1093.3 709.7 1085.7 720.3 1080 728C1074.3 735.7 1070.3 740.7 1066 746C1061.7 751.3 1058.3 756 1054 760C1049.7 764 1045.7 766.5 1040 770C1034.3 773.5 1026.7 778 1020 781C1013.3 784 1006.7 786.3 1000 788C993.3 789.7 986.7 790.8 980 791C973.3 791.2 966.7 790.5 960 789C953.3 787.5 946 784.5 940 782C934 779.5 928 777 924 774C920 771 917.7 768 916 764C914.3 760 913.7 754.7 914 750C914.3 745.3 916 740 918 736C920 732 922.7 728.4 926 726C929.3 723.6 934 721.9 938 721.6C942 721.3 945.7 722.4 950 724C954.3 725.6 961.7 729.8 964 731"/>
<path class="s" d="M1038 398C1040.3 397.5 1047.7 396.3 1052 395C1056.3 393.7 1060 391.7 1064 390C1068 388.3 1072.3 386.7 1076 385C1079.7 383.3 1084.3 380.8 1086 380"/>
<path class="s" d="M1068 458C1070 458.2 1076.3 459.3 1080 459C1083.7 458.7 1086.3 458 1090 456C1093.7 454 1098.5 451 1102 447C1105.5 443 1109.5 434.5 1111 432"/>
<path class="s" d="M1118 536C1120 536.3 1126 538.3 1130 538C1134 537.7 1138 536.7 1142 534C1146 531.3 1150.7 526.7 1154 522C1157.3 517.3 1160.7 508.7 1162 506"/>
<path class="s" d="M1108 590C1109.2 592 1112.3 598.7 1115 602C1117.7 605.3 1120.2 607.5 1124 610C1127.8 612.5 1133.3 615.3 1138 617C1142.7 618.7 1149.7 619.5 1152 620"/>
<path class="s" d="M1023 713C1024.2 714.7 1027.2 720.2 1030 723C1032.8 725.8 1036.2 727.7 1040 730C1043.8 732.3 1048.5 734.9 1053 737C1057.5 739.1 1064.7 741.5 1067 742.4"/>
<path class="s" d="M962 733C960 733.7 953.3 735.2 950 737C946.7 738.8 944 741.5 942 744C940 746.5 938.8 749.3 938 752C937.2 754.7 937 756.8 937 760C937 763.2 937.5 767.7 938 771C938.5 774.3 939.7 778.5 940 780"/>
<path class="s" d="M1131.1 321.7C1133.2 321.1 1139.8 319.4 1144 318C1148.2 316.6 1152.6 314.8 1156.6 313.2C1160.6 311.6 1164.2 310.2 1168 308.5C1171.8 306.8 1177.3 303.8 1179.2 302.8"/>
<path class="s" d="M1144.3 356.6C1145.8 357.1 1150 358.9 1153 359.5C1156 360.1 1159 360.5 1162.2 360.3C1165.4 360.1 1168.8 359.6 1172 358.5C1175.2 357.4 1177.5 356.5 1181.1 353.7C1184.6 350.9 1191.3 343.5 1193.3 341.5"/>
<path class="s" d="M1193.3 493.2C1194.9 493.5 1199.7 494.6 1203 494.8C1206.3 495 1209.8 494.8 1213.1 494.2C1216.4 493.6 1219.8 492.4 1223 491C1226.2 489.6 1228.5 488.3 1232 485.7C1235.5 483.1 1242.2 477 1244.2 475.3"/>
<path class="s" d="M1183 548C1184.2 549.5 1187.2 554.3 1190 557C1192.8 559.7 1196.2 561.7 1200 564C1203.8 566.3 1208.3 568.8 1213 571C1217.7 573.2 1225.5 576 1228 577"/>
<path class="s" d="M1090 711C1091.2 712 1094.3 715.2 1097 717C1099.7 718.8 1103 720.5 1106 722C1109 723.5 1112 724.8 1115 726C1118 727.2 1122.5 728.5 1124 729"/>
<path class="o w" d="M1070.3 200L1072.5 204.2L1079.2 209.2L1077.5 214.2L1078.3 218.3L1083.3 223.3A33.4 3.6 -21.8 0 0 1144.2 199.2L1144.2 199.2L1144.2 195L1145 190L1142.5 182.5L1140 176.7L1139.2 172.5Z"/>
<ellipse class="o w" cx="1104.8" cy="186.2" rx="37.1" ry="3" transform="rotate(-21.8 1104.8 186.2)"/>
<ellipse class="o" cx="1105" cy="186.7" rx="34.1" ry="1.6" transform="rotate(-21.8 1105 186.7)"/>
<path class="o" d="M1072.5 204.2A36.4 3.6 -22.2 0 0 1140 176.7"/>
<path class="o" d="M1079.2 209.2A34.4 3.6 -22.9 0 0 1142.5 182.5"/>
<path class="o" d="M1077.5 214.2A35.9 3.6 -19.7 0 0 1145 190"/>
<path class="o" d="M1078.3 218.3A34.9 3.6 -19.5 0 0 1144.2 195"/>
<path class="o" d="M1083.3 223.3A32.7 3.6 -21.6 0 0 1144.2 199.2"/>
<path class="t" d="M1079.1 211.7A34.6 3.6 -21.6 0 0 1143.5 186.2"/>
<path class="t" d="M1078.7 216.2A34.9 3.6 -19.9 0 0 1144.3 192.5"/>
<path class="o w" d="M965.7 248.2L967.9 252.4L974.6 257.4L972.9 262.4L973.7 266.5L978.7 271.5A33.4 3.6 -21.8 0 0 1039.6 247.4L1039.6 247.4L1039.6 243.2L1040.4 238.2L1037.9 230.7L1035.4 224.9L1034.6 220.7Z"/>
<ellipse class="o w" cx="1000.2" cy="234.4" rx="37.1" ry="3" transform="rotate(-21.8 1000.2 234.4)"/>
<ellipse class="o" cx="1000.4" cy="234.8" rx="34.1" ry="1.6" transform="rotate(-21.8 1000.4 234.8)"/>
<path class="o" d="M967.9 252.4A36.4 3.6 -22.2 0 0 1035.4 224.9"/>
<path class="o" d="M974.6 257.4A34.4 3.6 -22.9 0 0 1037.9 230.7"/>
<path class="o" d="M972.9 262.4A35.9 3.6 -19.7 0 0 1040.4 238.2"/>
<path class="o" d="M973.7 266.5A34.9 3.6 -19.5 0 0 1039.6 243.2"/>
<path class="o" d="M978.7 271.5A32.7 3.6 -21.6 0 0 1039.6 247.4"/>
<path class="t" d="M974.5 259.9A34.6 3.6 -21.6 0 0 1038.9 234.4"/>
<path class="t" d="M974.1 264.4A34.9 3.6 -19.9 0 0 1039.7 240.7"/>
<path class="o" d="M1066.7 260.7L1094.2 247.6"/>
<path class="b" d="M1094.2 247.6A32.4 2.2 -20.7 0 1 1154.9 224.7"/>
<path class="o" d="M1154.9 224.7L1182.9 212.6L1185.7 219.6"/>
<path class="b" d="M1094.2 248.8A32.7 1.4 -21.1 0 0 1155.3 225.2"/>
<path class="b" d="M1160 222.6L1182.5 213.2"/>
<path class="o" d="M1074.6 266.3C1077.5 265.2 1086.2 261.9 1092.3 259.7C1098.4 257.5 1104.8 255.5 1111 253.2C1117.2 250.9 1123.5 248.3 1129.7 245.7C1135.9 243 1142.1 240.2 1148.3 237.3C1154.5 234.4 1160.8 230.9 1167 228C1173.2 225.1 1182.6 221 1185.7 219.6"/>
<path class="t" d="M1067.2 262L1085.8 253.9L1094.2 250.6"/>
<path class="t" d="M1080.7 257.9L1082.5 262.4"/>
<path class="t" d="M1089.1 254.6L1091.4 259.9"/>
<path class="t" d="M1097 251.3L1099.8 256.8"/>
<path class="t" d="M1102.6 249.5L1104.9 254.8"/>
<path class="t" d="M1165.1 221.5L1167.5 227.6"/>
<path class="t" d="M1176.3 217.3L1178.2 222.8"/>
<path class="o w" d="M1062.6 267.6L1071.6 263L1074 269.3L1065 273.6Z"/>
<path class="t" d="M1067.7 265.3L1069.5 271.2"/>
<path class="t" d="M1070 264.2L1071.6 270.2"/>
<path class="o" d="M968.5 307.9C970.1 306.7 974.8 303 978.3 300.9C981.8 298.8 987.6 296.2 989.5 295.3"/>
<path class="b" d="M989.5 295.3A32.4 1.2 -20.7 0 1 1050.2 272.4"/>
<path class="b" d="M989.5 296.2A32.5 2.8 -20.9 0 0 1050.2 273"/>
<path class="o" d="M1050.2 272.4L1062.5 266.8"/>
<path class="b" d="M1040 276.8L1061 267.6"/>
<path class="o" d="M968.5 307.9L969.9 313.9"/>
<path class="o" d="M969.9 313.9C973.6 312.7 985.4 309.3 992.3 306.9C999.1 304.5 1004.8 302.1 1011 299.5C1017.2 296.9 1023.5 294.1 1029.7 291.1C1035.9 288.1 1043.6 284 1048.3 281.7C1053 279.4 1055 278.3 1057.7 277.1C1060.4 275.9 1063.1 274.8 1064.2 274.3"/>
<path class="t" d="M969 309L985.8 301.2L989.5 297"/>
<path class="t" d="M986.7 302.3L988.1 307.5"/>
<path class="t" d="M995.6 298.1L997.9 304.6"/>
<path class="t" d="M1006.8 294.3L1008.7 300"/>
<path class="t" d="M1011 292.5L1013.3 298.2"/>
<g transform="translate(924.4 657.4) rotate(16.2)"><path d="M-15 0C-16.5 -0.1 -21.5 -0.2 -24 -0.4C-26.5 -0.6 -28.4 -0.4 -30 -1C-31.6 -1.6 -32.7 -2.9 -33.3 -4C-33.9 -5.1 -33.8 -6.3 -33.6 -7.5C-33.4 -8.7 -33 -10.2 -32.3 -11.2C-31.6 -12.2 -30.6 -13 -29.2 -13.4C-27.8 -13.8 -25.6 -13.7 -24 -13.8C-22.4 -13.9 -20.3 -13.8 -19.6 -13.8" style="stroke-width:3.4"/><path d="M-15 0C-16.5 -0.1 -21.5 -0.2 -24 -0.4C-26.5 -0.6 -28.4 -0.4 -30 -1C-31.6 -1.6 -32.7 -2.9 -33.3 -4C-33.9 -5.1 -33.8 -6.3 -33.6 -7.5C-33.4 -8.7 -33 -10.2 -32.3 -11.2C-31.6 -12.2 -30.6 -13 -29.2 -13.4C-27.8 -13.8 -25.6 -13.7 -24 -13.8C-22.4 -13.9 -20.3 -13.8 -19.6 -13.8" style="stroke:#fff;stroke-width:1.3"/><path d="M67 -1.2C68.2 -1.2 72 -1.1 74 -1.1C76 -1.1 77.6 -0.6 79 -1.1C80.4 -1.6 81.8 -2.8 82.6 -4C83.4 -5.2 83.7 -6.9 83.6 -8.3C83.5 -9.7 82.8 -11.5 82 -12.6C81.2 -13.7 80.4 -14.7 78.7 -15.1C77 -15.5 73.9 -15.2 72 -15.2C70.1 -15.2 67.9 -15.1 67.1 -15.1" style="stroke-width:3.4"/><path d="M67 -1.2C68.2 -1.2 72 -1.1 74 -1.1C76 -1.1 77.6 -0.6 79 -1.1C80.4 -1.6 81.8 -2.8 82.6 -4C83.4 -5.2 83.7 -6.9 83.6 -8.3C83.5 -9.7 82.8 -11.5 82 -12.6C81.2 -13.7 80.4 -14.7 78.7 -15.1C77 -15.5 73.9 -15.2 72 -15.2C70.1 -15.2 67.9 -15.1 67.1 -15.1" style="stroke:#fff;stroke-width:1.3"/><ellipse cx="-14.6" cy="0" rx="1.9" ry="6.2" transform="rotate(12 -14.6 0)" style="fill:#fff;stroke-width:1.3"/><ellipse cx="-11.9" cy="0" rx="1.9" ry="6.5" transform="rotate(12 -11.9 0)" style="fill:#fff;stroke-width:1.3"/><ellipse cx="-9.1" cy="0" rx="1.9" ry="6.9" transform="rotate(12 -9.1 0)" style="fill:#fff;stroke-width:1.3"/><ellipse cx="-6.4" cy="0" rx="1.9" ry="7.2" transform="rotate(12 -6.4 0)" style="fill:#fff;stroke-width:1.3"/><ellipse cx="-3.6" cy="0" rx="1.9" ry="7.6" transform="rotate(12 -3.6 0)" style="fill:#fff;stroke-width:1.3"/><ellipse cx="-0.9" cy="0" rx="1.9" ry="7.9" transform="rotate(12 -0.9 0)" style="fill:#fff;stroke-width:1.3"/><ellipse cx="67.8" cy="0" rx="1.9" ry="6.1" transform="rotate(12 67.8 0)" style="fill:#fff;stroke-width:1.3"/><ellipse cx="65.3" cy="0" rx="1.9" ry="6.4" transform="rotate(12 65.3 0)" style="fill:#fff;stroke-width:1.3"/><ellipse cx="62.9" cy="0" rx="1.9" ry="6.7" transform="rotate(12 62.9 0)" style="fill:#fff;stroke-width:1.3"/><ellipse cx="60.5" cy="0" rx="1.9" ry="6.9" transform="rotate(12 60.5 0)" style="fill:#fff;stroke-width:1.3"/><ellipse cx="58" cy="0" rx="1.9" ry="7.2" transform="rotate(12 58 0)" style="fill:#fff;stroke-width:1.3"/><ellipse cx="55.6" cy="0" rx="1.9" ry="7.4" transform="rotate(12 55.6 0)" style="fill:#fff;stroke-width:1.3"/><ellipse cx="53.2" cy="0" rx="1.9" ry="7.7" transform="rotate(12 53.2 0)" style="fill:#fff;stroke-width:1.3"/><ellipse cx="50.7" cy="0" rx="1.9" ry="8" transform="rotate(12 50.7 0)" style="fill:#fff;stroke-width:1.3"/><rect class="r" x="0" y="-8.6" width="50" height="17.2" rx="2.2" ry="3.5" style="fill:#fff;stroke-width:1.5"/><path class="k" d="M3.5 -3.5l3.2 0.6l1.6-2.2l1.5 1.2l-1.6 2.4l1.6 3.4l-2 0.8l-1.5-2.6l-2.6 2.6l-1.3-1.3l2.6-2.8z" style="stroke-width:.6"/><text class="lg" style="stroke:#000;stroke-width:1.5;stroke-linejoin:round" transform="translate(11 3.6) scale(1 1)" font-size="9.6" textLength="27" lengthAdjust="spacingAndGlyphs">AKRAPOVIČ</text></g>
<g transform="translate(843 768.3) rotate(23.2)"><path d="M-11 -0.5C-11.8 -0.5 -14.5 -0.5 -16 -0.6C-17.5 -0.7 -18.8 -0.5 -20 -0.8C-21.2 -1.1 -22.6 -1.8 -23.3 -2.6C-24 -3.4 -24.2 -4.6 -24.3 -5.8C-24.4 -7 -24.2 -8.8 -23.8 -10C-23.4 -11.2 -22.7 -12.5 -21.6 -13.2C-20.6 -13.9 -18.8 -14.1 -17.5 -14.2C-16.2 -14.3 -14.2 -14 -13.6 -14" style="stroke-width:3.4"/><path d="M-11 -0.5C-11.8 -0.5 -14.5 -0.5 -16 -0.6C-17.5 -0.7 -18.8 -0.5 -20 -0.8C-21.2 -1.1 -22.6 -1.8 -23.3 -2.6C-24 -3.4 -24.2 -4.6 -24.3 -5.8C-24.4 -7 -24.2 -8.8 -23.8 -10C-23.4 -11.2 -22.7 -12.5 -21.6 -13.2C-20.6 -13.9 -18.8 -14.1 -17.5 -14.2C-16.2 -14.3 -14.2 -14 -13.6 -14" style="stroke:#fff;stroke-width:1.3"/><path d="M50 -1C51 -0.8 54.2 0.1 56 0.4C57.8 0.7 59.3 1 60.5 0.6C61.7 0.2 62.7 -0.9 63.3 -2C63.9 -3.1 64 -4.8 63.9 -6.1C63.8 -7.4 63.4 -8.9 62.8 -10C62.2 -11.1 61.2 -12.2 60.1 -12.8C59 -13.4 57.4 -13.5 56 -13.6C54.6 -13.7 52.3 -13.5 51.6 -13.5" style="stroke-width:3.4"/><path d="M50 -1C51 -0.8 54.2 0.1 56 0.4C57.8 0.7 59.3 1 60.5 0.6C61.7 0.2 62.7 -0.9 63.3 -2C63.9 -3.1 64 -4.8 63.9 -6.1C63.8 -7.4 63.4 -8.9 62.8 -10C62.2 -11.1 61.2 -12.2 60.1 -12.8C59 -13.4 57.4 -13.5 56 -13.6C54.6 -13.7 52.3 -13.5 51.6 -13.5" style="stroke:#fff;stroke-width:1.3"/><ellipse cx="-11.2" cy="0" rx="1.9" ry="5.9" transform="rotate(12 -11.2 0)" style="fill:#fff;stroke-width:1.3"/><ellipse cx="-8.6" cy="0" rx="1.9" ry="6.3" transform="rotate(12 -8.6 0)" style="fill:#fff;stroke-width:1.3"/><ellipse cx="-6" cy="0" rx="1.9" ry="6.8" transform="rotate(12 -6 0)" style="fill:#fff;stroke-width:1.3"/><ellipse cx="-3.4" cy="0" rx="1.9" ry="7.2" transform="rotate(12 -3.4 0)" style="fill:#fff;stroke-width:1.3"/><ellipse cx="-0.8" cy="0" rx="1.9" ry="7.6" transform="rotate(12 -0.8 0)" style="fill:#fff;stroke-width:1.3"/><ellipse cx="51.8" cy="0" rx="1.9" ry="5.9" transform="rotate(12 51.8 0)" style="fill:#fff;stroke-width:1.3"/><ellipse cx="49.2" cy="0" rx="1.9" ry="6.2" transform="rotate(12 49.2 0)" style="fill:#fff;stroke-width:1.3"/><ellipse cx="46.7" cy="0" rx="1.9" ry="6.5" transform="rotate(12 46.7 0)" style="fill:#fff;stroke-width:1.3"/><ellipse cx="44.1" cy="0" rx="1.9" ry="6.8" transform="rotate(12 44.1 0)" style="fill:#fff;stroke-width:1.3"/><ellipse cx="41.5" cy="0" rx="1.9" ry="7.1" transform="rotate(12 41.5 0)" style="fill:#fff;stroke-width:1.3"/><ellipse cx="39" cy="0" rx="1.9" ry="7.4" transform="rotate(12 39 0)" style="fill:#fff;stroke-width:1.3"/><ellipse cx="36.4" cy="0" rx="1.9" ry="7.7" transform="rotate(12 36.4 0)" style="fill:#fff;stroke-width:1.3"/><rect class="r" x="0" y="-8.3" width="35.6" height="16.6" rx="2.2" ry="3.5" style="fill:#fff;stroke-width:1.5"/><path class="k" d="M2.5 -3.5l2.6 0.6l1.4-2.2l1.3 1.2l-1.4 2.4l1.4 3.4l-1.8 0.8l-1.3-2.6l-2.2 2.6l-1.1-1.3l2.2-2.8z" style="stroke-width:.6"/><text class="lg" style="stroke:#000;stroke-width:1.6;stroke-linejoin:round" transform="translate(8.6 3.8) scale(1 1)" font-size="9.6" textLength="19" lengthAdjust="spacingAndGlyphs">AKRAPOVIČ</text></g>
<g transform="translate(985 377.4) rotate(65.9)"><path d="M-17 0C-18.8 -0.1 -24.5 -0.3 -28 -0.5C-31.5 -0.7 -35.9 -0.6 -38 -1C-40.1 -1.4 -40.1 -1.9 -40.6 -2.6C-41.1 -3.3 -41.4 -4.4 -41.2 -5.2C-41 -6 -40.6 -6.8 -39.6 -7.2C-38.6 -7.6 -37.1 -7.4 -35 -7.5C-32.9 -7.6 -28.1 -7.6 -26.7 -7.6" style="stroke-width:3.4"/><path d="M-17 0C-18.8 -0.1 -24.5 -0.3 -28 -0.5C-31.5 -0.7 -35.9 -0.6 -38 -1C-40.1 -1.4 -40.1 -1.9 -40.6 -2.6C-41.1 -3.3 -41.4 -4.4 -41.2 -5.2C-41 -6 -40.6 -6.8 -39.6 -7.2C-38.6 -7.6 -37.1 -7.4 -35 -7.5C-32.9 -7.6 -28.1 -7.6 -26.7 -7.6" style="stroke:#fff;stroke-width:1.3"/><path d="M72 -0.6C73.3 -0.8 77.3 -1.4 80 -1.7C82.7 -1.9 86.2 -2.2 88 -2.1C89.8 -2 90.2 -1.5 90.6 -1C91 -0.5 91 0.5 90.6 1C90.2 1.5 89.8 2 88 2.1C86.2 2.2 82.7 1.9 80 1.7C77.3 1.4 73.3 0.8 72 0.6" style="stroke-width:3.4"/><path d="M72 -0.6C73.3 -0.8 77.3 -1.4 80 -1.7C82.7 -1.9 86.2 -2.2 88 -2.1C89.8 -2 90.2 -1.5 90.6 -1C91 -0.5 91 0.5 90.6 1C90.2 1.5 89.8 2 88 2.1C86.2 2.2 82.7 1.9 80 1.7C77.3 1.4 73.3 0.8 72 0.6" style="stroke:#fff;stroke-width:1.3"/><ellipse cx="-17.8" cy="0" rx="1.9" ry="6" transform="rotate(12 -17.8 0)" style="fill:#fff;stroke-width:1.3"/><ellipse cx="-15.3" cy="0" rx="1.9" ry="6.3" transform="rotate(12 -15.3 0)" style="fill:#fff;stroke-width:1.3"/><ellipse cx="-12.9" cy="0" rx="1.9" ry="6.6" transform="rotate(12 -12.9 0)" style="fill:#fff;stroke-width:1.3"/><ellipse cx="-10.5" cy="0" rx="1.9" ry="6.8" transform="rotate(12 -10.5 0)" style="fill:#fff;stroke-width:1.3"/><ellipse cx="-8" cy="0" rx="1.9" ry="7.1" transform="rotate(12 -8 0)" style="fill:#fff;stroke-width:1.3"/><ellipse cx="-5.6" cy="0" rx="1.9" ry="7.3" transform="rotate(12 -5.6 0)" style="fill:#fff;stroke-width:1.3"/><ellipse cx="-3.2" cy="0" rx="1.9" ry="7.6" transform="rotate(12 -3.2 0)" style="fill:#fff;stroke-width:1.3"/><ellipse cx="-0.7" cy="0" rx="1.9" ry="7.9" transform="rotate(12 -0.7 0)" style="fill:#fff;stroke-width:1.3"/><ellipse cx="73.2" cy="0" rx="1.9" ry="6" transform="rotate(12 73.2 0)" style="fill:#fff;stroke-width:1.3"/><ellipse cx="70.8" cy="0" rx="1.9" ry="6.3" transform="rotate(12 70.8 0)" style="fill:#fff;stroke-width:1.3"/><ellipse cx="68.2" cy="0" rx="1.9" ry="6.6" transform="rotate(12 68.2 0)" style="fill:#fff;stroke-width:1.3"/><ellipse cx="65.8" cy="0" rx="1.9" ry="6.8" transform="rotate(12 65.8 0)" style="fill:#fff;stroke-width:1.3"/><ellipse cx="63.2" cy="0" rx="1.9" ry="7.1" transform="rotate(12 63.2 0)" style="fill:#fff;stroke-width:1.3"/><ellipse cx="60.8" cy="0" rx="1.9" ry="7.3" transform="rotate(12 60.8 0)" style="fill:#fff;stroke-width:1.3"/><ellipse cx="58.2" cy="0" rx="1.9" ry="7.6" transform="rotate(12 58.2 0)" style="fill:#fff;stroke-width:1.3"/><ellipse cx="55.8" cy="0" rx="1.9" ry="7.9" transform="rotate(12 55.8 0)" style="fill:#fff;stroke-width:1.3"/><rect class="r" x="0" y="-8.5" width="55" height="17" rx="2.2" ry="3.5" style="fill:#fff;stroke-width:1.5"/><path class="k" d="M8.6 -6.4l2.6-1.6l3.4 2.6l1.4-1" style="fill:none;stroke-width:1"/><text class="lg" style="stroke:#000;stroke-width:1.6;stroke-linejoin:round" transform="translate(17.5 -4.6) scale(1 0.4)" font-size="8.6" textLength="32" lengthAdjust="spacingAndGlyphs">AKRAPOVIČ</text></g>
<g transform="translate(1221.3 323.2) rotate(64)"><path d="M-17 -0.6C-18.7 -0.8 -23.7 -1.4 -27 -1.7C-30.3 -1.9 -34.9 -2.2 -37 -2.1C-39.1 -2 -39.2 -1.5 -39.6 -1C-40 -0.5 -40 0.5 -39.6 1C-39.2 1.5 -39.1 2 -37 2.1C-34.9 2.2 -30.3 1.9 -27 1.7C-23.7 1.4 -18.7 0.8 -17 0.6" style="stroke-width:3.4"/><path d="M-17 -0.6C-18.7 -0.8 -23.7 -1.4 -27 -1.7C-30.3 -1.9 -34.9 -2.2 -37 -2.1C-39.1 -2 -39.2 -1.5 -39.6 -1C-40 -0.5 -40 0.5 -39.6 1C-39.2 1.5 -39.1 2 -37 2.1C-34.9 2.2 -30.3 1.9 -27 1.7C-23.7 1.4 -18.7 0.8 -17 0.6" style="stroke:#fff;stroke-width:1.3"/><path d="M71 -0.6C72.5 -0.8 77.2 -1.4 80 -1.7C82.8 -1.9 85.8 -2.2 87.5 -2.1C89.2 -2 89.7 -1.5 90.1 -1C90.5 -0.5 90.5 0.5 90.1 1C89.7 1.5 89.2 2 87.5 2.1C85.8 2.2 82.8 1.9 80 1.7C77.2 1.4 72.5 0.8 71 0.6" style="stroke-width:3.4"/><path d="M71 -0.6C72.5 -0.8 77.2 -1.4 80 -1.7C82.8 -1.9 85.8 -2.2 87.5 -2.1C89.2 -2 89.7 -1.5 90.1 -1C90.5 -0.5 90.5 0.5 90.1 1C89.7 1.5 89.2 2 87.5 2.1C85.8 2.2 82.8 1.9 80 1.7C77.2 1.4 72.5 0.8 71 0.6" style="stroke:#fff;stroke-width:1.3"/><ellipse cx="-18.2" cy="0" rx="1.9" ry="6" transform="rotate(12 -18.2 0)" style="fill:#fff;stroke-width:1.3"/><ellipse cx="-15.8" cy="0" rx="1.9" ry="6.3" transform="rotate(12 -15.8 0)" style="fill:#fff;stroke-width:1.3"/><ellipse cx="-13.2" cy="0" rx="1.9" ry="6.6" transform="rotate(12 -13.2 0)" style="fill:#fff;stroke-width:1.3"/><ellipse cx="-10.8" cy="0" rx="1.9" ry="6.8" transform="rotate(12 -10.8 0)" style="fill:#fff;stroke-width:1.3"/><ellipse cx="-8.2" cy="0" rx="1.9" ry="7.1" transform="rotate(12 -8.2 0)" style="fill:#fff;stroke-width:1.3"/><ellipse cx="-5.8" cy="0" rx="1.9" ry="7.3" transform="rotate(12 -5.8 0)" style="fill:#fff;stroke-width:1.3"/><ellipse cx="-3.2" cy="0" rx="1.9" ry="7.6" transform="rotate(12 -3.2 0)" style="fill:#fff;stroke-width:1.3"/><ellipse cx="-0.8" cy="0" rx="1.9" ry="7.9" transform="rotate(12 -0.8 0)" style="fill:#fff;stroke-width:1.3"/><ellipse cx="72.3" cy="0" rx="1.9" ry="6" transform="rotate(12 72.3 0)" style="fill:#fff;stroke-width:1.3"/><ellipse cx="69.8" cy="0" rx="1.9" ry="6.3" transform="rotate(12 69.8 0)" style="fill:#fff;stroke-width:1.3"/><ellipse cx="67.3" cy="0" rx="1.9" ry="6.6" transform="rotate(12 67.3 0)" style="fill:#fff;stroke-width:1.3"/><ellipse cx="64.8" cy="0" rx="1.9" ry="6.8" transform="rotate(12 64.8 0)" style="fill:#fff;stroke-width:1.3"/><ellipse cx="62.3" cy="0" rx="1.9" ry="7.1" transform="rotate(12 62.3 0)" style="fill:#fff;stroke-width:1.3"/><ellipse cx="59.9" cy="0" rx="1.9" ry="7.3" transform="rotate(12 59.9 0)" style="fill:#fff;stroke-width:1.3"/><ellipse cx="57.4" cy="0" rx="1.9" ry="7.6" transform="rotate(12 57.4 0)" style="fill:#fff;stroke-width:1.3"/><ellipse cx="54.9" cy="0" rx="1.9" ry="7.9" transform="rotate(12 54.9 0)" style="fill:#fff;stroke-width:1.3"/><rect class="r" x="0" y="-8.5" width="54.1" height="17" rx="2.2" ry="3.5" style="fill:#fff;stroke-width:1.5"/><path class="k" d="M8.6 -6.4l2.6-1.6l3.4 2.6l1.4-1" style="fill:none;stroke-width:1"/><text class="lg" style="stroke:#000;stroke-width:1.6;stroke-linejoin:round" transform="translate(17.5 -4.6) scale(1 0.4)" font-size="8.6" textLength="32" lengthAdjust="spacingAndGlyphs">AKRAPOVIČ</text></g>
<path d="M1163 414.5C1163.7 414.1 1164.5 412.4 1167 412.3C1169.5 412.2 1175.5 413.2 1178 414C1180.5 414.8 1181.3 415.5 1182.3 417C1183.3 418.5 1183.6 420.9 1184.2 423C1184.8 425.1 1185.7 428.4 1186 429.5" style="stroke-width:4.6"/><path d="M1163 414.5C1163.7 414.1 1164.5 412.4 1167 412.3C1169.5 412.2 1175.5 413.2 1178 414C1180.5 414.8 1181.3 415.5 1182.3 417C1183.3 418.5 1183.6 420.9 1184.2 423C1184.8 425.1 1185.7 428.4 1186 429.5" style="stroke:#fff;stroke-width:2.3"/>
<path class="t" d="M1167.9 417.8L1173.5 430L1178 429"/>
<path d="M1067.5 463.5C1068.2 463.1 1069 461.4 1071.5 461.3C1074 461.2 1080 462.2 1082.5 463C1085 463.8 1085.8 464.5 1086.8 466C1087.8 467.5 1088.1 469.9 1088.7 472C1089.3 474.1 1090.2 477.4 1090.5 478.5" style="stroke-width:4.6"/><path d="M1067.5 463.5C1068.2 463.1 1069 461.4 1071.5 461.3C1074 461.2 1080 462.2 1082.5 463C1085 463.8 1085.8 464.5 1086.8 466C1087.8 467.5 1088.1 469.9 1088.7 472C1089.3 474.1 1090.2 477.4 1090.5 478.5" style="stroke:#fff;stroke-width:2.3"/>
<path class="t" d="M1072.4 466.8L1078 479L1082.5 478"/>
<path class="o w" d="M990.7 792C990.3 792.7 988.8 794.8 988.3 796C987.8 797.2 987.7 798.5 988 799.5C988.3 800.5 989.1 801.6 990 802C990.9 802.4 992.3 802.4 993.5 802C994.7 801.6 995.9 800.7 997 799.5C998.1 798.3 999.2 796.3 1000 795C1000.8 793.7 1001.7 792.1 1002 791.5"/>
<path class="t" d="M992 794C991.9 794.6 991.1 796.7 991.3 797.5C991.5 798.3 992.2 799.2 993 799C993.8 798.8 995.1 797.6 996 796.5C996.9 795.4 998.1 793.2 998.5 792.5"/>
<path class="t" d="M1002 791L1008 787.3L1011.5 787L1011 789.5"/>
<path class="o w" d="M1030.5 783.5C1029.9 784.1 1027.9 785.6 1027 787C1026.1 788.4 1025.5 790.4 1025.3 792C1025.1 793.6 1025.4 795.5 1026 796.5C1026.6 797.5 1027.6 798 1028.7 798C1029.8 798 1031.2 797.5 1032.5 796.5C1033.8 795.5 1035.5 793.8 1036.7 792C1038 790.2 1039.5 786.6 1040 785.5"/>
<path class="t" d="M1031 786C1030.8 786.8 1029.6 789.3 1029.5 790.5C1029.4 791.7 1029.8 793 1030.5 793C1031.2 793 1032.9 791.6 1034 790.5C1035.1 789.4 1036.5 787.2 1037 786.5"/>
<path class="t" d="M1040 784.5L1043 782.6L1049.5 782.8L1049 784.6"/>
<ellipse class="o w" cx="487.2" cy="607.4" rx="12.6" ry="19.8" transform="rotate(-20 487.2 607.4)"/>
<ellipse class="o w" cx="485.6" cy="607.6" rx="12.6" ry="19.8" transform="rotate(-20 485.6 607.6)"/>
<ellipse class="o" cx="483.4" cy="608.6" rx="4.2" ry="6.2" transform="rotate(-20 483.4 608.6)"/>
<ellipse class="o w" cx="463.4" cy="616.4" rx="7.2" ry="11.4" transform="rotate(-20 463.4 616.4)"/>
<ellipse class="t" cx="462.8" cy="616.6" rx="6.4" ry="10.6" transform="rotate(-20 462.8 616.6)"/>
<ellipse class="o" cx="462.3" cy="616.9" rx="3" ry="5.4" transform="rotate(-20 462.3 616.9)"/>
<ellipse class="t" cx="462.9" cy="616.7" rx="3.6" ry="6" transform="rotate(-20 462.9 616.7)"/>
<path class="o w" d="M421.4 629.4L447.4 617.9C451.5 616.4 454.5 625 452 627.4L428 638.2Z"/>
<path class="o" d="M426.5 627.2C429 629 430.5 633.5 429.5 637.2"/>
<path class="t" d="M428.8 626.2C431.3 628 432.8 632.5 431.8 636.2"/>
<ellipse class="o w" cx="415.4" cy="637.6" rx="7.6" ry="10.4" transform="rotate(-22 415.4 637.6)"/>
<ellipse class="o w" cx="414.2" cy="638.2" rx="7.6" ry="10.4" transform="rotate(-22 414.2 638.2)"/>
<ellipse class="b w" cx="413" cy="638.8" rx="7.6" ry="10.4" transform="rotate(-22 413 638.8)"/>
<ellipse class="o" cx="412.2" cy="639.2" rx="5.2" ry="7.4" transform="rotate(-22 412.2 639.2)"/>
<ellipse class="b" cx="411.9" cy="639.4" rx="3.2" ry="4.8" transform="rotate(-22 411.9 639.4)"/>
<ellipse class="t" cx="411.9" cy="639.4" rx="1.2" ry="2" transform="rotate(-22 411.9 639.4)"/>
<ellipse class="b w" cx="658.3" cy="534.1" rx="13.3" ry="20" transform="rotate(-16.5 658.3 534.1)"/>
<ellipse class="o" cx="658.1" cy="534.3" rx="11.2" ry="17.6" transform="rotate(-16.5 658.1 534.3)"/>
<path class="o w" d="M653.5 528.3L657.6 527.2C662 527.8 665 533 664 538.5C663.6 540.6 663 542.2 662 543.2L657 544.6"/>
<ellipse class="b w" cx="654.3" cy="536.4" rx="4.6" ry="8" transform="rotate(-16.5 654.3 536.4)"/>
<ellipse class="o" cx="654.5" cy="536.6" rx="2.9" ry="6" transform="rotate(-16.5 654.5 536.6)"/>
<path class="o w" d="M499.8 415L499.8 423.5C503 430 523 430 526.2 423.5L526.2 415Z"/>
<path class="b" d="M500.5 418.2C506 422 520 422 525.6 418"/>
<path class="b w" d="M495.5 403L499 399L512.7 396.8L526.8 399.8L530 404.5L529.6 409.5L526.8 412.4L514 415.8L499 412.9L496 410Z"/>
<path class="o" d="M497 404.6L499.8 407.6L514 410.4L527 407L529.6 404.6"/>
<path class="o" d="M514 410.4L514 415.8"/>
<path class="t" d="M499.8 407.6L499.4 412.8"/>
<path class="t" d="M527 407L526.9 412.2"/>
<ellipse class="o" cx="512.9" cy="403.6" rx="13.6" ry="5.4" transform="rotate(3 512.9 403.6)"/>
<ellipse class="t" cx="513" cy="404.4" rx="10.4" ry="3.9" transform="rotate(3 513 404.4)"/>
<ellipse class="o" cx="513" cy="405.3" rx="6.2" ry="2.3" transform="rotate(3 513 405.3)"/>
<ellipse class="o w" cx="514.5" cy="448.9" rx="16" ry="8"/>
<ellipse class="t" cx="514.5" cy="448.9" rx="15" ry="7.2"/>
<ellipse class="o" cx="514.5" cy="448.9" rx="12.8" ry="5.7"/>
<path class="o w" d="M683.5 300L683.5 309.5C686 313.8 699 313.8 701.6 309.5L701.6 300Z"/>
<path class="o w" d="M679.4 294.6C680 303 705.5 303 706 294.2"/>
<path class="t" d="M680.4 297C684 301.5 701 301.5 705.2 296.6"/>
<path class="o w" d="M678.6 285.2L678.8 293.4C683 298.2 702 298.4 706.6 293L706.6 285Z"/>
<ellipse class="b w" cx="692.6" cy="285.6" rx="14" ry="5.4"/>
<ellipse class="t" cx="692.6" cy="285.8" rx="11" ry="3.9"/>
<path class="o" d="M679 288.6C684 292.6 689 293.4 692.4 293.6L692.4 298.4"/>
<path class="o" d="M692.4 293.6C698 293.2 703 291.5 706.4 288.4"/>
<ellipse class="t" cx="686.8" cy="284.4" rx="1.5" ry="1.5"/>
<ellipse class="t" cx="685.6" cy="291.2" rx="1.4" ry="1.8"/>
<path class="o" d="M684.4 287.2L689.4 288.6"/>
<path class="o" d="M687 284.8L686 290.4"/>
<ellipse class="b w" cx="691.4" cy="335.8" rx="13" ry="5.6"/>
<ellipse class="o" cx="691.4" cy="335.8" rx="11" ry="4.4"/>
<ellipse class="b" cx="691.4" cy="335.8" rx="9.2" ry="3.2"/>
</svg>
</body></html>
